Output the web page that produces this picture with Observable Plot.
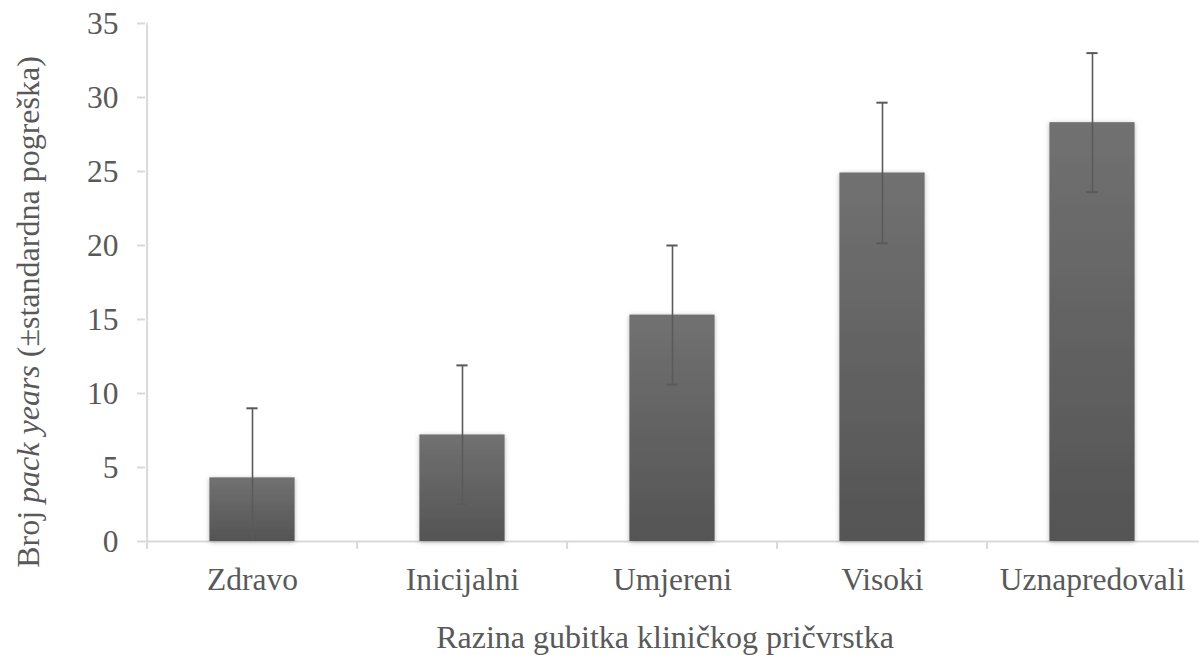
<!DOCTYPE html>
<html><head><meta charset="utf-8">
<script src="https://cdn.jsdelivr.net/npm/d3@7"></script>
<script src="https://cdn.jsdelivr.net/npm/@observablehq/plot@0.6"></script>
<style>
body{margin:0;background:#fff}
svg, svg text, svg g { font-family: "Liberation Serif", "Times New Roman", serif !important; }
</style>
</head><body><div id="chart"></div>
<script>
const categories = ["Zdravo", "Inicijalni", "Umjereni", "Visoki", "Uznapredovali"];
const means = [4.3, 7.2, 15.3, 24.9, 28.3];
const errors = [4.7, 4.7, 4.7, 4.75, 4.7];
const yTicks = [0, 5, 10, 15, 20, 25, 30, 35];
const xTitle = "Razina gubitka kliničkog pričvrstka";
const yTitleParts = [["Broj ", "normal"], ["pack years", "italic"], [" (±standardna pogreška)", "normal"]];

const data = categories.map((c, i) => ({
  cat: c, mean: means[i],
  lo: Math.max(0, means[i] - errors[i]),
  loCap: means[i] - errors[i],
  hi: means[i] + errors[i]
}));

const W = 1199, H = 655, mL = 145, mR = 0, mT = 23, mB = 114;
const bw = (W - mL - mR) / categories.length;
const barW = 86, capW = 12;
const axisColor = "#d9d9d9", textColor = "#595959", errColor = "#5a5a5a";
const FS = 31.5, TFS = 32;

const svg = Plot.plot({
  width: W, height: H,
  marginLeft: mL, marginRight: mR, marginTop: mT, marginBottom: mB,
  style: {fontFamily: "Liberation Serif", fontSize: FS + "px", color: textColor, background: "#fff"},
  x: {domain: categories, padding: 0, label: null},
  y: {domain: [0, 35], label: null},
  marks: [
    Plot.axisY({ticks: yTicks, tickSize: 8, tickPadding: 19, stroke: axisColor, strokeWidth: 2, strokeOpacity: 1, fill: textColor, label: null, fontSize: FS}),
    Plot.axisX({tickSize: 8, text: null, dx: -bw / 2, stroke: axisColor, strokeWidth: 2, strokeOpacity: 1, label: null}),
    Plot.axisX({tickSize: 0, tickPadding: 26, fill: textColor, label: null, fontSize: FS}),
    Plot.ruleY([0], {stroke: axisColor, strokeWidth: 2}),
    Plot.ruleX([categories[0]], {x: d => d, y1: 0, y2: 35, dx: -bw / 2, stroke: axisColor, strokeWidth: 2}),
    Plot.barY(data, {x: "cat", y: "mean", fill: "url(#barGrad)", insetLeft: (bw - barW) / 2, insetRight: (bw - barW) / 2}),
    Plot.ruleX(data, {x: "cat", y1: "lo", y2: "hi", stroke: errColor, strokeWidth: 1.6}),
    Plot.tickY(data, {x: "cat", y: "hi", stroke: errColor, strokeWidth: 2, insetLeft: (bw - capW) / 2, insetRight: (bw - capW) / 2}),
    Plot.tickY(data.filter(d => d.loCap > 0), {x: "cat", y: "loCap", stroke: errColor, strokeWidth: 2, insetLeft: (bw - capW) / 2, insetRight: (bw - capW) / 2})
  ]
});

const s = d3.select(svg);
const defs = s.insert("defs", ":first-child");
const g = defs.append("linearGradient").attr("id", "barGrad").attr("x1", 0).attr("y1", 0).attr("x2", 0).attr("y2", 1);
g.append("stop").attr("offset", "0%").attr("stop-color", "#717171");
g.append("stop").attr("offset", "100%").attr("stop-color", "#545454");
const f = defs.append("filter").attr("id", "barShadow").attr("x", "-20%").attr("y", "-20%").attr("width", "140%").attr("height", "140%");
f.append("feDropShadow").attr("dx", 0).attr("dy", 1).attr("stdDeviation", 2.5).attr("flood-color", "#000").attr("flood-opacity", 0.28);
s.selectAll("g[aria-label='bar'] rect").attr("filter", "url(#barShadow)");

// Y axis title with italic part
const yt = s.append("text")
  .attr("transform", `translate(28, 312) rotate(-90)`)
  .attr("text-anchor", "middle").attr("dominant-baseline", "central")
  .attr("fill", textColor).attr("font-size", TFS);
yTitleParts.forEach(([t, st]) => yt.append("tspan").attr("font-style", st).text(t));

// X axis title
s.append("text")
  .attr("x", 665).attr("y", H - 18)
  .attr("text-anchor", "middle").attr("dominant-baseline", "central")
  .attr("fill", textColor).attr("font-size", TFS)
  .text(xTitle);

document.getElementById("chart").appendChild(svg);
</script>
</body></html>
